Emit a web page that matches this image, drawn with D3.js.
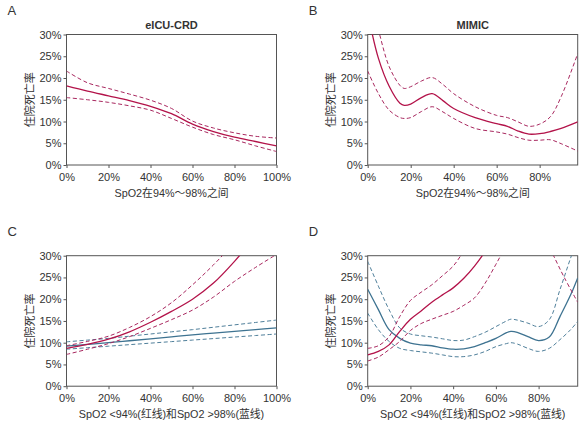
<!DOCTYPE html>
<html>
<head>
<meta charset="utf-8">
<script src="https://cdn.jsdelivr.net/npm/d3@7"></script>
<style>
  body { margin: 0; background: #fff; }
  text { font-family: "Liberation Sans", Arial, "Noto Sans CJK SC", sans-serif; fill: #333; }
  .cjk { font-family: "Liberation Sans", "Noto Sans CJK SC", sans-serif; }
</style>
</head>
<body>
<div id="main"></div>
<script>
const ctx = {
    w: 588,
    h: 427,
    pw: 210,
    ph: 130.5,
    red: "#b3134a",
    redDash: "#a8285f",
    blue: "#3e7391",
    blueDash: "#4f7f9a"
};

// tick labels
const yTicks = [0, 5, 10, 15, 20, 25, 30];
const xTicksFull = [0, 20, 40, 60, 80, 100];
const xTicksShort = [0, 20, 40, 60, 80];

// panel A - eICU-CRD
const xA = [0, 10, 20, 30, 40, 50, 60, 70, 80, 90, 100];
const aFit = [18.2, 17.0, 15.9, 14.8, 13.5, 11.8, 9.4, 7.7, 6.4, 5.4, 4.4];
const aUpper = [21.6, 18.9, 17.6, 16.3, 14.9, 13.0, 10.1, 8.5, 7.4, 6.6, 6.2];
const aLower = [15.5, 15.0, 14.4, 13.6, 12.6, 10.7, 8.7, 7.0, 5.8, 4.4, 3.1];

// panel B - MIMIC
const xB = [0, 5, 10, 15, 17, 20, 25, 30, 35, 40, 50, 60, 65, 70, 75, 80, 85, 90, 97.7];
const bFit = [35, 24.5, 18.1, 14.2, 13.7, 14.0, 15.5, 16.4, 14.8, 13.0, 10.9, 9.5, 8.9, 7.8, 7.1, 7.2, 7.7, 8.4, 9.9];
const bUpper = [40, 31, 22.6, 18.3, 17.6, 18.0, 19.3, 20.1, 18.5, 16.4, 13.4, 11.4, 10.9, 9.9, 8.9, 9.4, 11.1, 15.7, 25.6];
const bLower = [21.6, 16.4, 12.6, 10.9, 10.7, 10.9, 12.3, 13.4, 12.2, 10.7, 8.4, 7.6, 7.1, 6.3, 5.7, 5.7, 5.8, 4.9, 3.2];

// panel C - eICU-CRD, low (red) and high (blue) SpO2
const xC = [0, 10, 20, 30, 40, 50, 60, 70, 80, 90, 100];
const cRedFit = [8.7, 9.6, 10.8, 12.5, 14.7, 17.2, 20.0, 23.7, 28.7, 34.5, 41];
const cRedUpper = [9.3, 10.3, 11.5, 13.5, 16.0, 19.2, 23.3, 27.9, 33, 38, 44];
const cRedLower = [7.3, 8.5, 9.8, 11.4, 13.3, 15.3, 17.5, 20.5, 24.1, 27.3, 30.3];
const cBlueFit = [9.2, 9.6, 10.0, 10.45, 10.9, 11.35, 11.8, 12.2, 12.6, 13.0, 13.4];
const cBlueUpper = [10.2, 10.6, 11.0, 11.5, 12.0, 12.5, 13.0, 13.55, 14.1, 14.65, 15.2];
const cBlueLower = [8.5, 8.85, 9.2, 9.55, 9.9, 10.25, 10.6, 10.95, 11.3, 11.65, 12.0];

// panel D - MIMIC, low (red) and high (blue) SpO2
const xDRed = [0, 5, 10, 15, 20, 25, 30, 35, 40, 45, 50, 55, 60, 65, 70];
const dRedFit = [7.2, 8.0, 9.5, 12.6, 15.4, 17.3, 19.3, 21.0, 22.6, 24.8, 27.6, 31, 35, 39, 43];
const dRedUpper = [8.7, 9.3, 11.4, 16.0, 19.7, 21.6, 23.3, 25.4, 27.6, 31, 34, 38, 42, 46, 50];
const dRedLower = [5.8, 6.7, 8.4, 10.3, 12.8, 14.4, 15.4, 16.3, 17.2, 18.6, 20.3, 23.7, 28.0, 32.5, 37];
const xDRedTail = [84, 87, 92, 98.3];
const dRedTail = [33, 30, 25, 19.3];
const xDBlue = [0, 5, 10, 15, 20, 25, 30, 35, 40, 45, 50, 55, 60, 65, 67, 70, 75, 80, 85, 90, 95, 98.3];
const dBlueFit = [22.3, 17.6, 13.0, 11.0, 9.9, 9.5, 9.3, 8.8, 8.5, 8.6, 9.1, 10.0, 11.0, 12.3, 12.6, 12.4, 11.4, 10.5, 11.3, 16.0, 21.0, 24.9];
const dBlueUpper = [28.7, 23.0, 17.6, 13.4, 12.0, 11.6, 11.3, 10.9, 10.5, 10.6, 11.4, 12.4, 13.7, 15.0, 15.4, 15.2, 14.5, 13.7, 15.3, 22.2, 29.5, 34];
const dBlueLower = [16.8, 13.0, 10.3, 8.7, 8.2, 7.9, 7.6, 7.2, 6.8, 6.8, 7.2, 8.0, 9.1, 9.8, 10.0, 9.7, 8.7, 8.0, 8.7, 10.7, 13.0, 14.9];

const xLabelA = "SpO2在94%～98%之间";
const xLabelC = "SpO2 <94%(红线)和SpO2 >98%(蓝线)";
const yLabel = "住院死亡率";

function zip(xs, ys) {
    return xs.map((x, i) => [x, ys[i]]);
}

function createPanel(svg, p) {
    const g = svg.append("g").attr("transform", `translate(${p.left},${p.top})`);
    const x = d3.scaleLinear().domain([0, p.xMax]).range([0, ctx.pw]);
    const y = d3.scaleLinear().domain([0, 30]).range([ctx.ph, 0]);

    // frame
    g.append("rect")
     .attr("width", ctx.pw).attr("height", ctx.ph)
     .attr("fill", "none").attr("stroke", "#555").attr("stroke-width", 1);

    // axes
    const yAxis = d3.axisLeft(y).tickValues(yTicks).tickSize(3).tickFormat(d => d + "%");
    const xAxis = d3.axisBottom(x).tickValues(p.xTicks).tickSize(3).tickFormat(d => d + "%");
    const ya = g.append("g").call(yAxis);
    const xa = g.append("g").attr("transform", `translate(0,${ctx.ph})`).call(xAxis);
    [ya, xa].forEach(a => {
        a.select(".domain").remove();
        a.selectAll("line").attr("stroke", "#555");
        a.selectAll("text").attr("font-size", 11).attr("fill", "#333")
         .style("font-family", "'Liberation Sans', Arial, sans-serif");
    });
    ya.selectAll("text").attr("x", -5);
    xa.selectAll("text").attr("y", 8);

    // clip
    g.append("clipPath").attr("id", "clip-" + p.id)
     .append("rect").attr("width", ctx.pw).attr("height", ctx.ph);
    const plot = g.append("g").attr("clip-path", `url(#clip-${p.id})`);

    const line = d3.line()
        .x(d => x(d[0]))
        .y(d => y(d[1]))
        .curve(d3.curveCatmullRom.alpha(0.5));

    p.series.forEach(s => {
        plot.append("path")
            .datum(zip(s.x, s.y))
            .attr("d", line)
            .attr("fill", "none")
            .attr("stroke", s.color)
            .attr("stroke-width", s.dash ? 1 : 1.3)
            .attr("stroke-dasharray", s.dash ? "4,2.5" : null);
    });

    // labels
    svg.append("text")
       .attr("x", p.left - 59).attr("y", p.top - 20)
       .attr("font-size", 13).attr("fill", "#222")
       .text(p.letter);
    if (p.title) {
        svg.append("text")
           .attr("x", p.left + ctx.pw / 2).attr("y", p.top - 6)
           .attr("text-anchor", "middle")
           .attr("font-size", 11).attr("font-weight", "bold").attr("fill", "#222")
           .text(p.title);
    }
    svg.append("text")
       .attr("class", "cjk")
       .attr("x", p.left + ctx.pw / 2).attr("y", p.top + ctx.ph + 32)
       .attr("text-anchor", "middle")
       .attr("font-size", 10.8).attr("fill", "#333")
       .text(p.xLabel);
    svg.append("text")
       .attr("class", "cjk")
       .attr("transform", `translate(${p.left - 33},${p.top + ctx.ph / 2}) rotate(-90)`)
       .attr("text-anchor", "middle")
       .attr("font-size", 11).attr("fill", "#333")
       .text(yLabel);
}

function createViz() {
    const svg = d3.select("#main").append("svg")
        .attr("width", ctx.w).attr("height", ctx.h);

    const panels = [
        { id: "A", letter: "A", title: "eICU-CRD", left: 66.5, top: 34.5, xMax: 100, xTicks: xTicksFull, xLabel: xLabelA,
          series: [
            { x: xA, y: aUpper, color: ctx.redDash, dash: true },
            { x: xA, y: aLower, color: ctx.redDash, dash: true },
            { x: xA, y: aFit, color: ctx.red }
          ] },
        { id: "B", letter: "B", title: "MIMIC", left: 367.7, top: 34.5, xMax: 97.7, xTicks: xTicksShort, xLabel: xLabelA,
          series: [
            { x: xB, y: bUpper, color: ctx.redDash, dash: true },
            { x: xB, y: bLower, color: ctx.redDash, dash: true },
            { x: xB, y: bFit, color: ctx.red }
          ] },
        { id: "C", letter: "C", title: null, left: 66.5, top: 255.7, xMax: 100, xTicks: xTicksFull, xLabel: xLabelC,
          series: [
            { x: xC, y: cBlueUpper, color: ctx.blueDash, dash: true },
            { x: xC, y: cBlueLower, color: ctx.blueDash, dash: true },
            { x: xC, y: cBlueFit, color: ctx.blue },
            { x: xC, y: cRedUpper, color: ctx.redDash, dash: true },
            { x: xC, y: cRedLower, color: ctx.redDash, dash: true },
            { x: xC, y: cRedFit, color: ctx.red }
          ] },
        { id: "D", letter: "D", title: null, left: 367.7, top: 255.7, xMax: 98.3, xTicks: xTicksShort, xLabel: xLabelC,
          series: [
            { x: xDBlue, y: dBlueUpper, color: ctx.blueDash, dash: true },
            { x: xDBlue, y: dBlueLower, color: ctx.blueDash, dash: true },
            { x: xDBlue, y: dBlueFit, color: ctx.blue },
            { x: xDRed, y: dRedUpper, color: ctx.redDash, dash: true },
            { x: xDRed, y: dRedLower, color: ctx.redDash, dash: true },
            { x: xDRedTail, y: dRedTail, color: ctx.redDash, dash: true },
            { x: xDRed, y: dRedFit, color: ctx.red }
          ] }
    ];
    panels.forEach(p => createPanel(svg, p));
}

createViz();
</script>
</body>
</html>
